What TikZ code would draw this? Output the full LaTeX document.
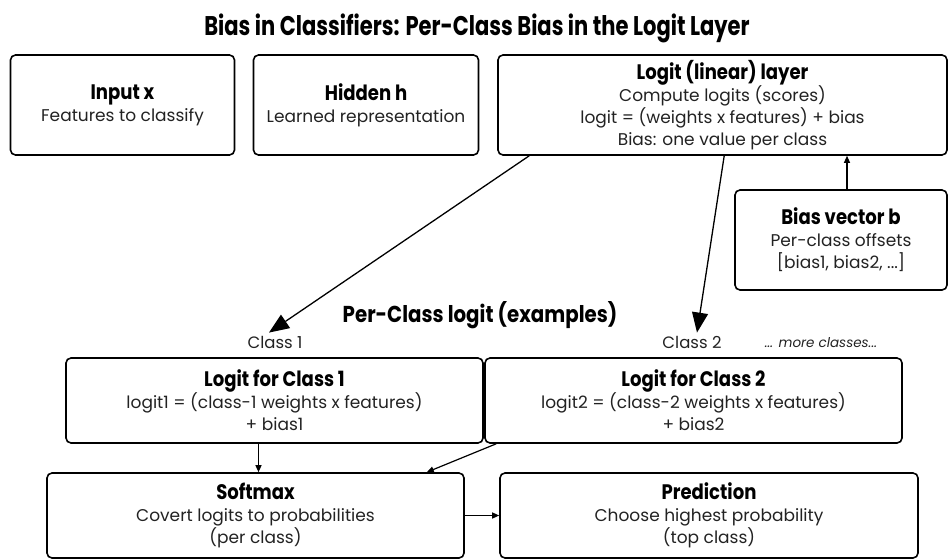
\documentclass[tikz,border=0pt]{standalone}
\usepackage{fontspec}
\setmainfont{Poppins}
\newfontfamily\hfont[FakeStretch=0.86]{Poppins}
\newfontfamily\tfont[FakeStretch=0.78]{Poppins}
\usetikzlibrary{arrows.meta,calc}
\definecolor{txt}{HTML}{222222}
\tikzset{
  box/.style={draw=black, line width=1.6pt, rounded corners=5pt, align=center,
    inner sep=0pt, text=txt, font=\fontsize{17}{22}\selectfont},
  bigarrow/.style={draw=black, line width=1.3pt, -{Triangle[length=20pt,width=16pt]}},
  smallarrow/.style={draw=black, line width=1.2pt, -{Triangle[length=7pt,width=6pt]}},
  lbl/.style={inner sep=0pt, text=txt},
}
\newcommand{\bt}[1]{{\hfont\fontsize{21}{22}\selectfont\bfseries\color{black}#1}}
\begin{document}
\begin{tikzpicture}[x=1pt,y=-1pt]
\useasboundingbox (0,0) rectangle (948,559);
\node[lbl, text=black, anchor=base, font=\tfont\fontsize{27}{30}\selectfont\bfseries] (title) at (477,36) {Bias in Classifiers: Per-Class Bias in the Logit Layer};

\node[box, minimum width=224pt, minimum height=100pt] (inp) at (122.5,105)
  {\bt{Input x}\\Features to classify};
\node[box, minimum width=225pt, minimum height=100pt] (hid) at (366,105)
  {\bt{Hidden h}\\Learned representation};
\node[box, minimum width=449pt, minimum height=100pt] (logit) at (722.5,105)
  {\bt{Logit (linear) layer}\\Compute logits (scores)\\logit = (weights x features) + bias\\Bias: one value per class};
\node[box, minimum width=212pt, minimum height=100pt] (biasb) at (841,240)
  {\bt{Bias vector b}\\Per-class offsets\\{[bias1, bias2, ...]}};

\node[lbl, text=black, anchor=base, font=\hfont\fontsize{23}{26}\selectfont\bfseries] (pc) at (480,322) {Per-Class logit (examples)};
\node[lbl, anchor=base, font=\fontsize{16.5}{18}\selectfont] (c1) at (275,348) {Class 1};
\node[lbl, anchor=base, font=\fontsize{16.5}{18}\selectfont] (c2) at (692,348) {Class 2};
\node[lbl, anchor=base, font=\fontsize{13.5}{15}\selectfont\itshape] (more) at (821,347) {... more classes...};

\node[box, minimum width=417pt, minimum height=85pt] (l1) at (274.5,400.5)
  {\bt{Logit for Class 1}\\logit1 = (class-1 weights x features)\\+ bias1};
\node[box, minimum width=417pt, minimum height=85pt] (l2) at (693.5,400.5)
  {\bt{Logit for Class 2}\\logit2 = (class-2 weights x features)\\+ bias2};
\node[box, minimum width=417pt, minimum height=85pt] (soft) at (255.5,515.5)
  {\bt{Softmax}\\Covert logits to probabilities\\(per class)};
\node[box, minimum width=418pt, minimum height=85pt] (pred) at (709,515.5)
  {\bt{Prediction}\\Choose highest probability\\(top class)};

\draw[bigarrow] ([xshift=32pt]logit.south west) -- ([xshift=-6pt,yshift=3pt]c1.north);
\draw[bigarrow] ([xshift=227pt]logit.south west) -- ([xshift=5pt,yshift=3pt]c2.north);
\draw[smallarrow] ([xshift=6pt]biasb.north) -- ([xshift=6pt]biasb.north |- logit.south);
\draw[smallarrow] ([xshift=-16pt]l1.south) -- ([xshift=-16pt]l1.south |- soft.north);
\draw[smallarrow] ([xshift=12pt]l2.south west) -- ([xshift=-38pt]soft.north east);
\draw[smallarrow] (soft.east) -- (pred.west);
\end{tikzpicture}
\end{document}
